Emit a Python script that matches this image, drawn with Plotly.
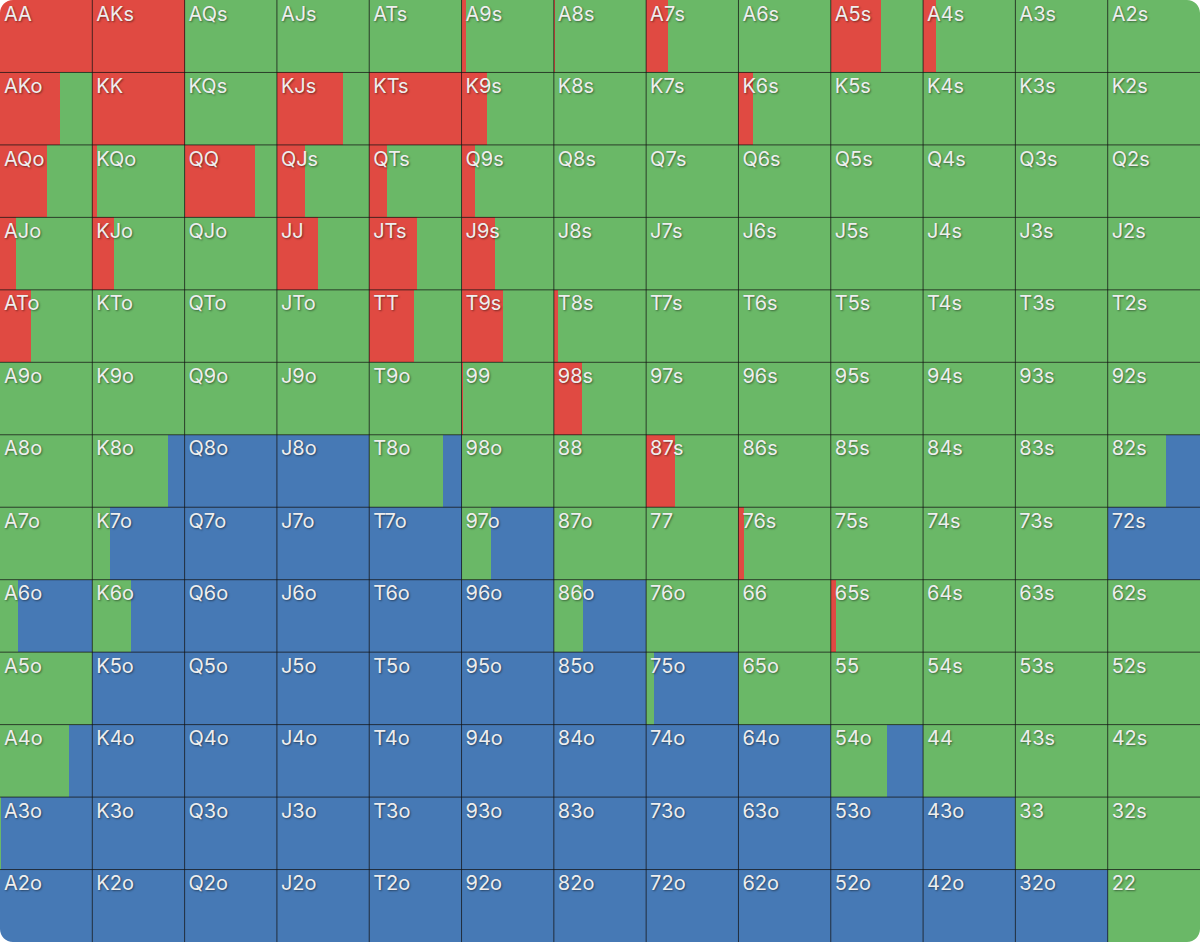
import plotly.graph_objects as go

RANKS = ["A", "K", "Q", "J", "T", "9", "8", "7", "6", "5", "4", "3", "2"]

RAISE = [
    [1.00, 1.00, 0, 0, 0, 0.05, 0.015, 0.24, 0, 0.54, 0.14, 0, 0],
    [0.65, 1.00, 0, 0.72, 1.00, 0.28, 0, 0, 0.16, 0, 0, 0, 0],
    [0.51, 0.05, 0.76, 0.30, 0.19, 0.145, 0, 0, 0, 0, 0, 0, 0],
    [0.17, 0.24, 0, 0.45, 0.52, 0.36, 0, 0, 0, 0, 0, 0, 0],
    [0.34, 0, 0, 0, 0.49, 0.45, 0.045, 0, 0, 0, 0, 0, 0],
    [0, 0, 0, 0, 0, 0.02, 0.30, 0, 0, 0, 0, 0, 0],
    [0, 0, 0, 0, 0, 0, 0, 0.31, 0, 0, 0, 0, 0],
    [0, 0, 0, 0, 0, 0, 0, 0, 0.06, 0, 0, 0, 0],
    [0, 0, 0, 0, 0, 0, 0, 0, 0, 0.06, 0, 0, 0],
    [0, 0, 0, 0, 0, 0, 0, 0, 0, 0, 0, 0, 0],
    [0, 0, 0, 0, 0, 0, 0, 0, 0, 0, 0, 0, 0],
    [0, 0, 0, 0, 0, 0, 0, 0, 0, 0, 0, 0, 0],
    [0, 0, 0, 0, 0, 0, 0, 0, 0, 0, 0, 0, 0],
]

CALL = [
    [0, 0, 1, 1, 1, 0.95, 0.985, 0.76, 1, 0.46, 0.86, 1, 1],
    [0.35, 0, 1, 0.28, 0, 0.72, 1, 1, 0.84, 1, 1, 1, 1],
    [0.49, 0.95, 0.24, 0.70, 0.81, 0.855, 1, 1, 1, 1, 1, 1, 1],
    [0.83, 0.76, 1, 0.55, 0.48, 0.64, 1, 1, 1, 1, 1, 1, 1],
    [0.66, 1, 1, 1, 0.51, 0.55, 0.955, 1, 1, 1, 1, 1, 1],
    [1, 1, 1, 1, 1, 0.98, 0.70, 1, 1, 1, 1, 1, 1],
    [1, 0.82, 0, 0, 0.80, 1, 1, 0.69, 1, 1, 1, 1, 0.63],
    [1, 0.19, 0, 0, 0, 0.32, 1, 1, 0.94, 1, 1, 1, 0],
    [0.19, 0.42, 0, 0, 0, 0, 0.32, 1, 1, 0.94, 1, 1, 1],
    [1, 0, 0, 0, 0, 0, 0, 0.08, 1, 1, 1, 1, 1],
    [0.75, 0, 0, 0, 0, 0, 0, 0, 0, 0.61, 1, 1, 1],
    [0.01, 0, 0, 0, 0, 0, 0, 0, 0, 0, 0, 1, 1],
    [0, 0, 0, 0, 0, 0, 0, 0, 0, 0, 0, 0, 1],
]

FOLD = [
    [0, 0, 0, 0, 0, 0, 0, 0, 0, 0, 0, 0, 0],
    [0, 0, 0, 0, 0, 0, 0, 0, 0, 0, 0, 0, 0],
    [0, 0, 0, 0, 0, 0, 0, 0, 0, 0, 0, 0, 0],
    [0, 0, 0, 0, 0, 0, 0, 0, 0, 0, 0, 0, 0],
    [0, 0, 0, 0, 0, 0, 0, 0, 0, 0, 0, 0, 0],
    [0, 0, 0, 0, 0, 0, 0, 0, 0, 0, 0, 0, 0],
    [0, 0.18, 1, 1, 0.20, 0, 0, 0, 0, 0, 0, 0, 0.37],
    [0, 0.81, 1, 1, 1, 0.68, 0, 0, 0, 0, 0, 0, 1],
    [0.81, 0.58, 1, 1, 1, 1, 0.68, 0, 0, 0, 0, 0, 0],
    [0, 1, 1, 1, 1, 1, 1, 0.92, 0, 0, 0, 0, 0],
    [0.25, 1, 1, 1, 1, 1, 1, 1, 1, 0.39, 0, 0, 0],
    [0.99, 1, 1, 1, 1, 1, 1, 1, 1, 1, 1, 0, 0],
    [1, 1, 1, 1, 1, 1, 1, 1, 1, 1, 1, 1, 0],
]

ACTIONS = [("Raise", RAISE, "#E04A42"), ("Call", CALL, "#6AB867"), ("Fold", FOLD, "#4679B5")]

N = len(RANKS)


def hand_label(i, j):
    if i == j:
        return RANKS[i] + RANKS[j]
    if i < j:
        return RANKS[i] + RANKS[j] + "s"
    return RANKS[j] + RANKS[i] + "o"


fig = go.Figure()

for name, grid, color in ACTIONS:
    ys, xs, bases = [], [], []
    for i in range(N):
        for j in range(N):
            v = grid[i][j]
            if v <= 0:
                continue
            start = j
            if name in ("Call", "Fold"):
                start += RAISE[i][j]
            if name == "Fold":
                start += CALL[i][j]
            ys.append(i + 0.5)
            xs.append(v)
            bases.append(start)
    fig.add_trace(go.Bar(
        name=name, orientation="h", y=ys, x=xs, base=bases, width=1.0,
        marker=dict(color=color, line=dict(width=0)), hoverinfo="skip",
        showlegend=False,
    ))

lx, ly, lt = [], [], []
for i in range(N):
    for j in range(N):
        lx.append(j + 0.043)
        ly.append(i + 0.215)
        lt.append(hand_label(i, j))

fig.add_trace(go.Scatter(
    x=lx, y=ly, text=lt, mode="text", textposition="middle right",
    textfont=dict(family="Inter, Roboto, sans-serif", size=20, color="#EEEEEE",
                  weight=400, shadow="1px 1px 2px rgba(0,0,0,0.45)"),
    hoverinfo="skip", showlegend=False,
))

shapes = []
for k in range(1, N):
    shapes.append(dict(type="line", xref="x", yref="y", x0=k, x1=k, y0=0, y1=N,
                       line=dict(color="rgba(20,20,20,0.75)", width=1), layer="above"))
    shapes.append(dict(type="line", xref="x", yref="y", x0=0, x1=N, y0=k, y1=k,
                       line=dict(color="rgba(20,20,20,0.75)", width=1), layer="above"))

# rounded outer corners (white masks)
rx = 13 / 1200
ry = 13 / 942
c = 0.45
corners = [
    f"M 0,1 L {rx},1 C {rx*c},1 0,{1-ry*c} 0,{1-ry} Z",
    f"M 1,1 L {1-rx},1 C {1-rx*c},1 1,{1-ry*c} 1,{1-ry} Z",
    f"M 0,0 L {rx},0 C {rx*c},0 0,{ry*c} 0,{ry} Z",
    f"M 1,0 L {1-rx},0 C {1-rx*c},0 1,{ry*c} 1,{ry} Z",
]
for p in corners:
    shapes.append(dict(type="path", xref="paper", yref="paper", path=p,
                       fillcolor="white", line=dict(width=0), layer="above"))

fig.update_layout(
    width=1200, height=942,
    margin=dict(l=0, r=0, t=0, b=0),
    paper_bgcolor="white", plot_bgcolor="white",
    barmode="overlay", bargap=0,
    xaxis=dict(range=[0, N], visible=False, fixedrange=True),
    yaxis=dict(range=[N, 0], visible=False, fixedrange=True),
    shapes=shapes,
)

fig.write_html("out.html", config={"displayModeBar": False, "staticPlot": True},
               post_script="document.body.style.margin='0';")
